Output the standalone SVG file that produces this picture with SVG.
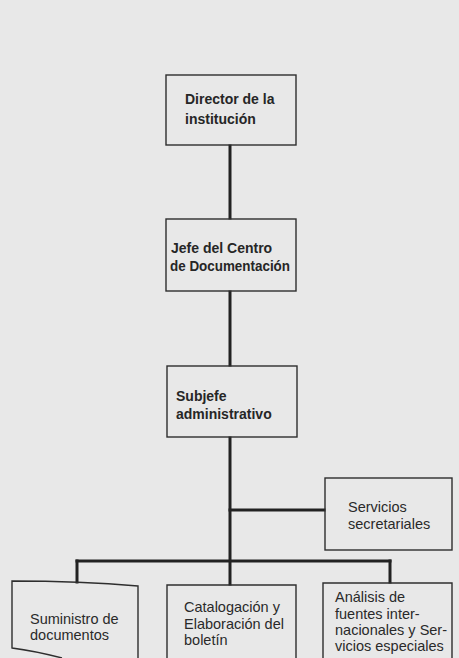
<svg xmlns="http://www.w3.org/2000/svg" width="459" height="658" viewBox="0 0 459 658">
  <style>
    .box { fill: none; stroke: #2e2e2e; stroke-width: 1.4; }
    .conn { fill: none; stroke: #222; stroke-width: 3; stroke-linecap: square; }
    .hd { font-family: "Liberation Sans", Arial, sans-serif; font-size: 14px; font-weight: bold; fill: #262626; }
    .tx { font-family: "Liberation Sans", Arial, sans-serif; font-size: 14.5px; fill: #2a2a2a; }
  </style>
  <rect x="0" y="0" width="459" height="658" fill="#e8e8e8"/>

  <g id="connectors">
    <line class="conn" x1="230" y1="146" x2="230" y2="218"/>
    <line class="conn" x1="230" y1="292" x2="230" y2="365"/>
    <line class="conn" x1="230" y1="438" x2="230" y2="584"/>
    <line class="conn" x1="230" y1="510" x2="324" y2="510"/>
    <line class="conn" x1="77" y1="561" x2="390" y2="561"/>
    <line class="conn" x1="77" y1="561" x2="77" y2="582"/>
    <line class="conn" x1="390" y1="561" x2="390" y2="582"/>
  </g>

  <g id="director">
    <rect class="box" x="166" y="75" width="130" height="70"/>
    <text class="hd" x="185" y="104">Director de la</text>
    <text class="hd" x="185" y="124">institución</text>
  </g>

  <g id="jefe-centro">
    <rect class="box" x="166" y="219" width="130" height="72"/>
    <text class="hd" x="171" y="253">Jefe del Centro</text>
    <text class="hd" x="170" y="271" textLength="120" lengthAdjust="spacingAndGlyphs">de Documentación</text>
  </g>

  <g id="subjefe">
    <rect class="box" x="167" y="366" width="130" height="71"/>
    <text class="hd" x="176" y="401">Subjefe</text>
    <text class="hd" x="176" y="419">administrativo</text>
  </g>

  <g id="servicios-secretariales">
    <rect class="box" x="325" y="478" width="127" height="72"/>
    <text class="tx" x="348" y="512">Servicios</text>
    <text class="tx" x="348" y="529">secretariales</text>
  </g>

  <g id="suministro">
    <path class="box" d="M138,662 L138,586 Q80,581 12,581 L12,648 Q35,651 62,658"/>
    <text class="tx" x="30" y="624">Suministro de</text>
    <text class="tx" x="30" y="640">documentos</text>
  </g>

  <g id="catalogacion">
    <path class="box" d="M167,662 L167,585 L296,585 L296,662"/>
    <text class="tx" x="184" y="612">Catalogación y</text>
    <text class="tx" x="184" y="629">Elaboración del</text>
    <text class="tx" x="184" y="645">boletín</text>
  </g>

  <g id="analisis">
    <path class="box" d="M323,662 L323,583 L452,583 L452,662"/>
    <text class="tx" x="335" y="602">Análisis de</text>
    <text class="tx" x="335" y="619">fuentes inter-</text>
    <text class="tx" x="335" y="635">nacionales y Ser-</text>
    <text class="tx" x="335" y="651">vicios especiales</text>
  </g>
</svg>
